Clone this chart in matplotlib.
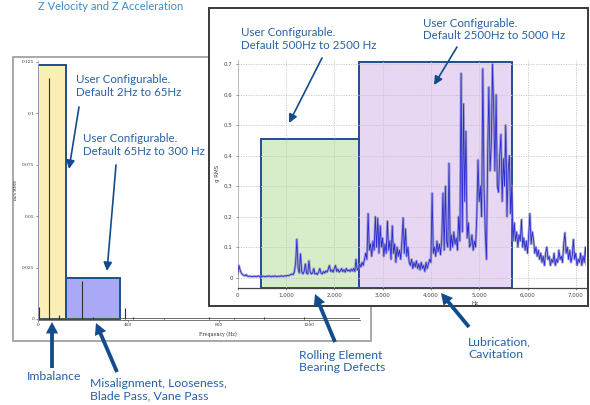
import numpy as np
import matplotlib
matplotlib.use("Agg")
import matplotlib.pyplot as plt
from matplotlib.patches import Rectangle, FancyArrowPatch

W, H = 590, 405

# ---------------- data ----------------
title_text = "Z Velocity and Z Acceleration"

# left chart (velocity spectrum, in/s RMS)
left_spike_hz = [5, 52, 96, 195, 245, 388, 420, 560, 760, 870, 1000, 1180]
left_spike_amp = [0.006, 0.117, 0.002, 0.0185, 0.0012, 0.0053, 0.0008, 0.0005,
                  0.0012, 0.0007, 0.0008, 0.0008]
left_band_lo = [0, 125]
left_band_hi = [125, 365]
left_band_top = [0.1235, 0.020]
left_band_colors = ["#fcefb4", "#a9a9f6"]
left_xticks = [0, 400, 800, 1200]
left_xticklabels = ["0", "400", "800", "1200"]
left_yticks = [0, 0.025, 0.05, 0.075, 0.1, 0.125]
left_yticklabels = ["0", "0.025", "0.05", "0.075", "0.1", "0.125"]

# right chart (acceleration spectrum, g RMS), bins of 25 Hz starting at 0 Hz
BIN_HZ = 25
g_a = [0.010, 0.040, 0.025, 0.015, 0.010, 0.008, 0.006, 0.010, 0.005, 0.004,
       0.005, 0.004, 0.003, 0.004, 0.005, 0.003, 0.004, 0.006, 0.003, 0.004,
       0.003, 0.005, 0.004, 0.003, 0.005, 0.004, 0.006, 0.004, 0.003, 0.005,
       0.004, 0.006, 0.003, 0.004, 0.005, 0.004, 0.006, 0.005, 0.004, 0.006,
       0.005, 0.007, 0.006, 0.008, 0.010]
g_b = [0.012, 0.010, 0.020, 0.050, 0.126, 0.030, 0.015, 0.078, 0.020, 0.012,
       0.020, 0.045, 0.015, 0.012, 0.055, 0.018, 0.012, 0.015, 0.030, 0.012,
       0.014, 0.010, 0.018, 0.030, 0.015, 0.012, 0.020, 0.015, 0.022, 0.018,
       0.028, 0.040, 0.020, 0.025, 0.018, 0.030, 0.040, 0.020, 0.028, 0.018,
       0.022, 0.030, 0.020, 0.026, 0.018, 0.030, 0.022, 0.025, 0.020, 0.028,
       0.022, 0.030, 0.020, 0.060, 0.025, 0.030]
g_c = [0.045, 0.035, 0.050, 0.040, 0.060, 0.080, 0.060, 0.210, 0.090, 0.110,
       0.070, 0.120, 0.090, 0.200, 0.100, 0.195, 0.080, 0.170, 0.100, 0.130,
       0.070, 0.110, 0.080, 0.185, 0.090, 0.120, 0.060, 0.170, 0.080, 0.110,
       0.050, 0.100, 0.070, 0.090, 0.060, 0.120, 0.196, 0.080, 0.160, 0.070]
g_d = [0.100, 0.050, 0.040, 0.060, 0.030, 0.050, 0.035, 0.055, 0.030, 0.045,
       0.025, 0.050, 0.030, 0.040, 0.020, 0.050, 0.030, 0.045, 0.060, 0.050]
g_e = [0.277, 0.080, 0.100, 0.070, 0.120, 0.085, 0.110, 0.075, 0.130, 0.277,
       0.090, 0.300, 0.120, 0.100, 0.375, 0.090, 0.140, 0.100, 0.150, 0.110,
       0.130, 0.090, 0.200, 0.120, 0.670, 0.150, 0.570, 0.250, 0.480, 0.130,
       0.180, 0.100]
g_f = [0.110, 0.140, 0.090, 0.120, 0.100, 0.200, 0.386, 0.250, 0.300, 0.200,
       0.685, 0.300, 0.150, 0.060, 0.400, 0.625, 0.350, 0.430, 0.700, 0.550,
       0.350, 0.600, 0.300, 0.280, 0.400, 0.470, 0.250, 0.390, 0.300, 0.500,
       0.200, 0.350, 0.400, 0.210, 0.300, 0.120]
g_g = [0.180, 0.120, 0.150, 0.100, 0.140, 0.120, 0.190, 0.100, 0.130, 0.090,
       0.120, 0.080, 0.140, 0.210, 0.110, 0.150, 0.125, 0.080, 0.100, 0.070]
g_h = [0.090, 0.060, 0.080, 0.050, 0.070, 0.040, 0.080, 0.100, 0.060, 0.070,
       0.040, 0.060, 0.050, 0.080, 0.040, 0.060, 0.050, 0.090, 0.060, 0.070,
       0.050, 0.110, 0.147, 0.080, 0.100, 0.060, 0.090, 0.050, 0.070, 0.125,
       0.060, 0.080, 0.040, 0.060, 0.050, 0.080, 0.040, 0.070, 0.050, 0.100,
       0.040, 0.060, 0.030, 0.060]
g_rms = g_a + g_b + g_c + g_d + g_e + g_f + g_g + g_h

right_band_lo = [480, 2520]
right_band_hi = [2520, 5675]
right_band_top = [0.455, 0.7085]
right_band_colors = ["#d7edca", "#e7d7f2"]
right_xticks = [0, 1000, 2000, 3000, 4000, 5000, 6000, 7000]
right_xticklabels = ["0", "1,000", "2,000", "3,000", "4,000", "5,000", "6,000", "7,000"]
right_yticks = [0, 0.1, 0.2, 0.3, 0.4, 0.5, 0.6, 0.7]
right_yticklabels = ["0", "0.1", "0.2", "0.3", "0.4", "0.5", "0.6", "0.7"]

callouts = ["User Configurable.\nDefault 2Hz to 65Hz",
            "User Configurable.\nDefault 65Hz to 300 Hz",
            "User Configurable.\nDefault 500Hz to 2500 Hz",
            "User Configurable.\nDefault 2500Hz to 5000 Hz"]
faults = ["Imbalance",
          "Misalignment, Looseness,\nBlade Pass, Vane Pass",
          "Rolling Element\nBearing Defects",
          "Lubrication,\nCavitation"]

# ---------------- layout helpers ----------------
TXT = "#2762a6"
ARR = "#134c8c"
EDGE = "#1f4f8e"
FONT = ["Lato", "DejaVu Sans"]


def fx(x):
    return x / W


def fy(y):
    return 1 - y / H


fig = plt.figure(figsize=(W / 100, H / 100), dpi=100)
fig.patch.set_facecolor("white")

# title (at the very top)
fig.text(fx(38), fy(0.6), title_text, color="#3a8ccc", fontsize=8,
         family=FONT, ha="left", va="top", zorder=6)

# ---------------- left panel ----------------
fig.add_artist(Rectangle((fx(13), fy(341)), (371 - 13) / W, (341 - 57) / H,
                         transform=fig.transFigure, facecolor="white",
                         edgecolor="#9a9a9a", lw=1.2, zorder=0))

axL = fig.add_axes([37.7 / W, 1 - 320 / H, (360 - 37.7) / W, (320 - 59.7) / H], zorder=1)
axL.patch.set_alpha(0)
axL.set_xlim(0, (360 - 37.7) / 0.226)
axL.set_ylim(-0.0005, 0.126)
for lo, hi, top, c in zip(left_band_lo, left_band_hi, left_band_top, left_band_colors):
    axL.add_patch(Rectangle((lo, 0), hi - lo, top, facecolor=c, edgecolor=EDGE,
                            lw=1.4, zorder=1))
axL.axhline(0.0004, color="#555555", lw=0.6, zorder=2)
axL.vlines(left_spike_hz, 0, left_spike_amp, color="#333333", lw=0.8, zorder=3)
axL.set_xticks(left_xticks)
axL.set_xticklabels(left_xticklabels)
axL.set_yticks(left_yticks)
axL.set_yticklabels(left_yticklabels)
axL.tick_params(labelsize=3.2, length=1.5, width=0.4, pad=1, colors="#333333")
for t in axL.get_xticklabels() + axL.get_yticklabels():
    t.set_family("DejaVu Serif")
for s in ["top", "right"]:
    axL.spines[s].set_visible(False)
axL.spines["bottom"].set_color("#777777")
axL.spines["bottom"].set_linewidth(0.7)
axL.spines["left"].set_color("#bbbbbb")
axL.spines["left"].set_linewidth(0.5)
axL.set_ylabel("in/s RMS", fontsize=3.2, family="DejaVu Serif", color="#333333")
axL.yaxis.set_label_coords(-0.062, 0.5)
axL.set_xlabel("Frequency (Hz)", fontsize=3.4, family="DejaVu Serif", color="#333333")
axL.xaxis.set_label_coords((218 - 37.7) / (360 - 37.7), -0.045)

# ---------------- right panel ----------------
fig.add_artist(Rectangle((fx(208.5), fy(305.5)), (587.5 - 208.5) / W, (305.5 - 8) / H,
                         transform=fig.transFigure, facecolor="white",
                         edgecolor="#3a3a3a", lw=1.4, zorder=2))

axR = fig.add_axes([237.7 / W, 1 - 288 / H, (586 - 237.7) / W, (288 - 60) / H], zorder=3)
axR.patch.set_alpha(0)
ymin_r = -0.034
axR.set_xlim(0, (586 - 237.7) / 0.0483)
axR.set_ylim(ymin_r, (277.7 - 60) / 305)
for lo, hi, top, c in zip(right_band_lo, right_band_hi, right_band_top, right_band_colors):
    axR.add_patch(Rectangle((lo, ymin_r), hi - lo, top - ymin_r, facecolor=c,
                            edgecolor=EDGE, lw=1.4, zorder=1))
hz = np.arange(len(g_rms)) * BIN_HZ
axR.plot(hz, g_rms, color="#8f8fc0", lw=1.8, alpha=0.75, zorder=3)
axR.plot(hz, g_rms, color="#2b2bd6", lw=0.6, zorder=4)
axR.set_xticks(right_xticks)
axR.set_xticklabels(right_xticklabels)
axR.set_yticks(right_yticks)
axR.set_yticklabels(right_yticklabels)
axR.grid(True, color="#c4c4c4", lw=0.6, ls=(0, (1.5, 1.5)), zorder=2)
axR.set_axisbelow(False)
axR.tick_params(labelsize=4, length=1.5, width=0.4, pad=2, colors="#444444")
for s in ["top", "right"]:
    axR.spines[s].set_visible(False)
axR.spines["bottom"].set_color("#444444")
axR.spines["bottom"].set_linewidth(0.9)
axR.spines["left"].set_color("#aaaaaa")
axR.spines["left"].set_linewidth(0.6)
axR.set_ylabel("g RMS", fontsize=4, color="#444444")
axR.yaxis.set_label_coords((220 - 237.7) / (586 - 237.7), (288 - 173) / (288 - 60))
axR.set_xlabel("Hz", fontsize=4, color="#444444")
axR.xaxis.set_label_coords((475 - 237.7) / (586 - 237.7), -0.055)

# ---------------- annotations ----------------
callout_pos = [(76, 86), (83, 145), (240.7, 39), (423, 29.5)]
for txt, (x, y) in zip(callouts, callout_pos):
    fig.text(fx(x), fy(y), txt, color=TXT, fontsize=8.3, family=FONT,
             ha="left", va="center", linespacing=1.2, zorder=6)

fault_pos = [(27, 377), (90, 389.5), (299, 361.5), (468, 348.5)]
for txt, (x, y) in zip(faults, fault_pos):
    fig.text(fx(x), fy(y), txt, color=TXT, fontsize=8.8, family=FONT,
             ha="left", va="center", linespacing=1.2, zorder=6)

thin_arrows = [((79, 107), (69, 169)), ((116, 165), (107, 271)),
               ((322, 58), (289, 123)), ((457, 47), (434, 85))]
for (x0, y0), (x1, y1) in thin_arrows:
    fig.add_artist(FancyArrowPatch((fx(x0), fy(y0)), (fx(x1), fy(y1)),
                                   transform=fig.transFigure,
                                   arrowstyle="-|>,head_length=0.5,head_width=0.25",
                                   mutation_scale=10, color=ARR, lw=1.2,
                                   shrinkA=0, shrinkB=0, zorder=7))

thick_arrows = [((52, 368), (52, 322)), ((117, 372), (96, 323)),
                ((335, 342), (315, 294)), ((469, 327), (441, 293))]
for (x0, y0), (x1, y1) in thick_arrows:
    fig.add_artist(FancyArrowPatch((fx(x0), fy(y0)), (fx(x1), fy(y1)),
                                   transform=fig.transFigure,
                                   arrowstyle="simple,head_length=0.75,head_width=0.8,tail_width=0.25",
                                   mutation_scale=11, color=ARR, lw=0,
                                   shrinkA=0, shrinkB=0, zorder=7))

fig.savefig("out.png", dpi=100)
